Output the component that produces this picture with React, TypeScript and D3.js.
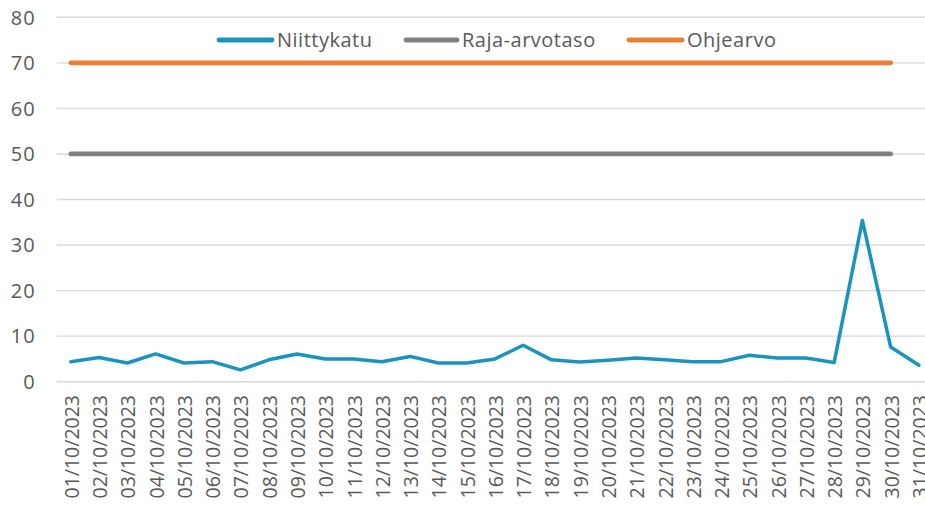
import React from "react";
import * as d3 from "d3";

const dates: string[] = Array.from({ length: 31 }, (_, i) => `${String(i + 1).padStart(2, "0")}/10/2023`);
const niittykatu: number[] = [
  4.4, 5.3, 4.1, 6.1, 4.1, 4.4, 2.6, 4.8, 6.1, 5.0,
  5.0, 4.4, 5.55, 4.1, 4.1, 5.0, 8.0, 4.8, 4.3, 4.7,
  5.2, 4.8, 4.4, 4.4, 5.8, 5.2, 5.2, 4.2, 35.4, 7.6, 3.6,
];
const rajaArvotaso: number[] = Array.from({ length: 30 }, () => 50);
const ohjearvo: number[] = Array.from({ length: 30 }, () => 70);
const yTicks: number[] = [0, 10, 20, 30, 40, 50, 60, 70, 80];
const seriesNames: string[] = ["Niittykatu", "Raja-arvotaso", "Ohjearvo"];
const seriesColors: string[] = ["#1a94bf", "#7f7f7f", "#ed7d31"];

const W = 925;
const H = 510;
const FONT = "'Open Sans', 'Noto Sans', sans-serif";

export default function App() {
  const left = 56.7;
  const step = 28.27;
  const x = d3.scaleBand<string>().domain(dates).range([left, left + step * dates.length]).padding(0);
  const cx = (d: string) => (x(d) as number) + x.bandwidth() / 2;
  const y = d3.scaleLinear().domain([0, 80]).range([381.7, 17.3]);

  const line = d3
    .line<number>()
    .x((_, i) => cx(dates[i]))
    .y((v) => y(v));

  const legendItems = [
    { name: seriesNames[0], color: seriesColors[0], x1: 219, x2: 272, tx: 277 },
    { name: seriesNames[1], color: seriesColors[1], x1: 406, x2: 457, tx: 462 },
    { name: seriesNames[2], color: seriesColors[2], x1: 629, x2: 682, tx: 687 },
  ];

  return (
    <svg
      width={W}
      height={H}
      style={{ position: "absolute", left: 0, top: 0, background: "#fff" }}
      fontFamily={FONT}
    >
      {yTicks.map((t) => (
        <g key={t}>
          <line x1={left} x2={W} y1={y(t)} y2={y(t)} stroke="#d9d9d9" strokeWidth={1.4} />
          <text x={36} y={y(t)} dy="0.36em" textAnchor="end" fontSize={20} fill="#595959" letterSpacing={1.2}>
            {t}
          </text>
        </g>
      ))}
      {dates.map((d) => (
        <text
          key={d}
          transform={`translate(${cx(d) + 1},395) rotate(-90)`}
          dy="0.36em"
          textAnchor="end"
          fontSize={19.5}
          fill="#595959"
        >
          {d}
        </text>
      ))}
      <path d={line(ohjearvo) || ""} fill="none" stroke={seriesColors[2]} strokeWidth={4.8} strokeLinecap="round" />
      <path d={line(rajaArvotaso) || ""} fill="none" stroke={seriesColors[1]} strokeWidth={4.8} strokeLinecap="round" />
      <path
        d={line(niittykatu) || ""}
        fill="none"
        stroke={seriesColors[0]}
        strokeWidth={3.5}
        strokeLinejoin="round"
        strokeLinecap="round"
      />
      {legendItems.map((it) => (
        <g key={it.name}>
          <line x1={it.x1} x2={it.x2} y1={40} y2={40} stroke={it.color} strokeWidth={4.8} strokeLinecap="round" />
          <text x={it.tx} y={40} dy="0.36em" fontSize={20} fill="#595959" letterSpacing={0.5}>
            {it.name}
          </text>
        </g>
      ))}
    </svg>
  );
}
